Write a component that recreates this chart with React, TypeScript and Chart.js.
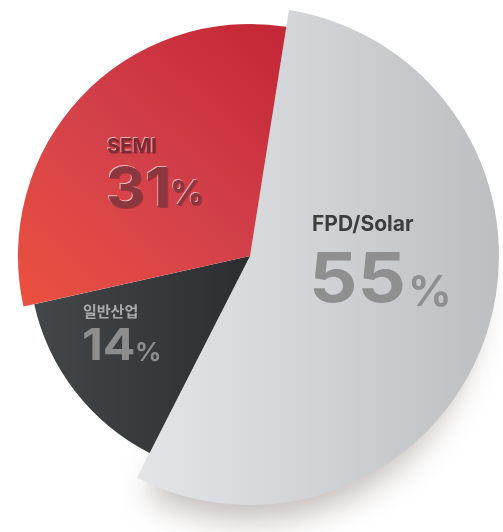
import React, { useEffect, useRef } from "react";
import { Chart, registerables } from "chart.js";

Chart.register(...registerables);

// ---- data ----
const CATEGORIES = ["FPD/Solar", "일반산업", "SEMI"];
const SHARES = [55, 14, 31];

// ---- styling (not data) ----
const RADIUS_SCALE = [1, 0.888, 0.932];
const ROTATION = 9;

type LabelStyle = {
  nameDx: number; nameDy: number; nameSize: number; nameColor: string;
  numDx: number; numDy: number; numSize: number; numColor: string;
  pctDx: number; pctDy: number; pctSize: number;
  emboss: boolean;
};

const LABEL_STYLES: LabelStyle[] = [
  { nameDx: 62, nameDy: -25, nameSize: 21, nameColor: "#3d3d3e",
    numDx: 59, numDy: 46, numSize: 69, numColor: "#8f8f8f",
    pctDx: 158, pctDy: 50, pctSize: 43, emboss: false },
  { nameDx: -167, nameDy: 61, nameSize: 15, nameColor: "#a9a9ab",
    numDx: -168, numDy: 104, numSize: 44, numColor: "#8d8d8d",
    pctDx: -115, pctDy: 105, pctSize: 26, emboss: false },
  { nameDx: -143, nameDy: -103, nameSize: 20, nameColor: "#7c2b34",
    numDx: -144, numDy: -49, numSize: 55, numColor: "#8a3740",
    pctDx: -80, pctDy: -51, pctSize: 34, emboss: true },
];

const FONT = "Inter, 'Noto Sans CJK KR', sans-serif";
const NUM_SCALE_X = 1.1;

function fillFor(ctx: CanvasRenderingContext2D, i: number, cx: number, cy: number, r: number) {
  if (i === 0) {
    const g = ctx.createLinearGradient(cx - r * 0.58, 0, cx + r, 0);
    g.addColorStop(0, "#e7e8ec");
    g.addColorStop(0.5, "#d3d4d7");
    g.addColorStop(1, "#bdbec0");
    return g;
  }
  if (i === 1) {
    const g = ctx.createLinearGradient(cx - r * 0.9, 0, cx, 0);
    g.addColorStop(0, "#44484b");
    g.addColorStop(1, "#2c2d2f");
    return g;
  }
  const g = ctx.createLinearGradient(cx - r * 0.95, cy + r * 0.1, cx, cy - r * 0.95);
  g.addColorStop(0, "#ea4f40");
  g.addColorStop(0.5, "#d2404a");
  g.addColorStop(1, "#c52836");
  return g;
}

const radiusPlugin = {
  id: "radiusPlugin",
  afterDatasetsUpdate(chart: any) {
    const meta = chart.getDatasetMeta(0);
    meta.data.forEach((arc: any, i: number) => {
      arc.outerRadius = arc.outerRadius * RADIUS_SCALE[i];
    });
  },
  beforeDatasetsDraw(chart: any) {
    const ctx = chart.ctx as CanvasRenderingContext2D;
    const arc = chart.getDatasetMeta(0).data[0];
    if (!arc) return;
    const full = arc.outerRadius;
    arc.outerRadius = full * 0.92;
    ctx.save();
    ctx.shadowColor = "rgba(80,60,50,0.32)";
    ctx.shadowBlur = 30;
    ctx.shadowOffsetY = 36;
    arc.draw(ctx);
    ctx.restore();
    arc.outerRadius = full;
  },
};

const labelPlugin = {
  id: "labelPlugin",
  afterDatasetsDraw(chart: any) {
    const ctx = chart.ctx as CanvasRenderingContext2D;
    const meta = chart.getDatasetMeta(0);
    const first = meta.data[0];
    if (!first) return;
    const cx = first.x;
    const cy = first.y;
    CATEGORIES.forEach((name, i) => {
      const s = LABEL_STYLES[i];
      const drawText = (text: string, x: number, y: number, size: number, color: string, sx: number) => {
        ctx.save();
        ctx.translate(x, y);
        ctx.scale(sx, 1);
        ctx.font = `bold ${size}px ${FONT}`;
        ctx.textAlign = "left";
        ctx.textBaseline = "alphabetic";
        if (s.emboss) {
          ctx.fillStyle = "rgba(255,215,215,0.75)";
          ctx.fillText(text, -0.8, -0.8);
          ctx.fillStyle = "rgba(90,20,25,0.35)";
          ctx.fillText(text, 0.8, 0.8);
        }
        ctx.fillStyle = color;
        ctx.fillText(text, 0, 0);
        ctx.restore();
      };
      drawText(name, cx + s.nameDx, cy + s.nameDy, s.nameSize, s.nameColor, 1);
      drawText(String(SHARES[i]), cx + s.numDx, cy + s.numDy, s.numSize, s.numColor, NUM_SCALE_X);
      drawText("%", cx + s.pctDx, cy + s.pctDy, s.pctSize, s.numColor, 1);
    });
  },
};

export default function App() {
  const ref = useRef<HTMLCanvasElement | null>(null);
  useEffect(() => {
    if (!ref.current) return;
    const chart = new Chart(ref.current, {
      type: "pie",
      data: {
        labels: CATEGORIES,
        datasets: [
          {
            data: SHARES,
            borderWidth: 0,
            backgroundColor: (c: any) => {
              const ch = c.chart;
              const ca = ch.chartArea;
              if (!ca) return "#ccc";
              const cx = (ca.left + ca.right) / 2;
              const cy = (ca.top + ca.bottom) / 2;
              const r = Math.min(ca.right - ca.left, ca.bottom - ca.top) / 2;
              return fillFor(ch.ctx, c.dataIndex, cx, cy, r);
            },
          },
        ],
      },
      options: {
        responsive: false,
        animation: false,
        rotation: ROTATION,
        layout: { padding: { left: 1, right: 4, top: 7, bottom: 27 } },
        plugins: {
          legend: { display: false },
          tooltip: { enabled: false },
        },
      },
      plugins: [radiusPlugin, labelPlugin],
    });
    return () => chart.destroy();
  }, []);
  return (
    <div style={{ position: "absolute", left: 0, top: 0, width: 503, height: 532, background: "#fff" }}>
      <canvas ref={ref} width={503} height={532} style={{ display: "block" }} />
    </div>
  );
}
